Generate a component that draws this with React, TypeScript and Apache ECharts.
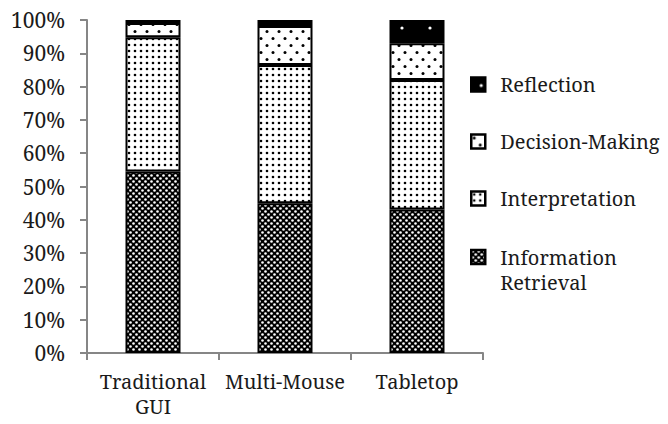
import React, { useEffect, useRef } from 'react';
import * as echarts from 'echarts';

const categories = ['Traditional GUI', 'Multi-Mouse', 'Tabletop'];
const seriesNames = ['Information Retrieval', 'Interpretation', 'Decision-Making', 'Reflection'];
const informationRetrieval = [54.5, 45.0, 43.1];
const interpretation = [40.3, 41.5, 38.9];
const decisionMaking = [4.3, 11.7, 11.0];
const reflection = [0.9, 1.8, 7.0];

const FONT = 'Noto Serif';
const TEXT_COLOR = '#1a1a1a';

function makeTile(w: number, h: number, bg: string, fg: string, dots: number[][]) {
  const c = document.createElement('canvas');
  c.width = w;
  c.height = h;
  const ctx = c.getContext('2d')!;
  ctx.fillStyle = bg;
  ctx.fillRect(0, 0, w, h);
  ctx.fillStyle = fg;
  dots.forEach(([x, y, r]) => {
    ctx.beginPath();
    ctx.arc(x, y, r, 0, Math.PI * 2);
    ctx.fill();
  });
  return { image: c.toDataURL(), repeat: 'repeat', imageWidth: w, imageHeight: h } as any;
}

export default function App() {
  const ref = useRef<HTMLDivElement>(null);
  useEffect(() => {
    document.body.style.margin = '0';
    const chart = echarts.init(ref.current!, null, { renderer: 'svg' });

    const patterns = [
      makeTile(6, 6, '#000', '#fff', [[1.5, 1.5, 1.3], [4.5, 4.5, 1.3]]),
      makeTile(6, 6, '#fff', '#000', [[3, 3, 1.3]]),
      makeTile(12, 14, '#fff', '#000', [[3, 3.5, 1.5], [9, 10.5, 1.5]]),
      makeTile(28, 20, '#000', '#fff', [[10, 8, 1.6]]),
    ];
    const values = [informationRetrieval, interpretation, decisionMaking, reflection];

    const legendOrder = ['Reflection', 'Decision-Making', 'Interpretation', 'Information Retrieval'];
    const legendTops = [72, 129, 186, 219.5];

    const option: any = {
      animation: false,
      grid: { left: 87, right: 185, top: 20, bottom: 71 },
      xAxis: {
        type: 'category',
        data: categories,
        axisLine: { lineStyle: { color: '#868686', width: 2 } },
        axisTick: { show: true, length: 7, lineStyle: { color: '#868686', width: 2 } },
        axisLabel: {
          interval: 0,
          margin: 16,
          color: TEXT_COLOR,
          fontFamily: FONT,
          fontSize: 20,
          lineHeight: 25,
          formatter: (v: string) => v.replace(' ', '\n'),
        },
      },
      yAxis: {
        type: 'value',
        min: 0,
        max: 100,
        interval: 10,
        axisLine: { show: true, lineStyle: { color: '#868686', width: 2 } },
        axisTick: { show: true, length: 7, lineStyle: { color: '#868686', width: 2 } },
        splitLine: { show: false },
        axisLabel: {
          margin: 22,
          color: TEXT_COLOR,
          fontFamily: FONT,
          fontSize: 21,
          formatter: '{value}%',
        },
      },
      legend: legendOrder.map((n, i) => ({
        orient: 'vertical',
        left: 470,
        top: legendTops[i],
        padding: 0,
        itemWidth: 14,
        itemHeight: 14,
        selectedMode: false,
        data: [n],
        icon: 'rect',
        formatter: (name: string) => (name === 'Information Retrieval' ? ' \nInformation\nRetrieval' : name),
        itemStyle: { borderColor: '#000', borderWidth: 2.5 },
        textStyle: {
          color: TEXT_COLOR,
          fontFamily: FONT,
          fontSize: 20,
          lineHeight: 25,
          padding: [0, 0, 0, 10],
        },
      })),
      series: seriesNames.map((name, i) => ({
        name,
        type: 'bar',
        stack: 'total',
        barWidth: 55,
        data: values[i],
        itemStyle: { color: patterns[i], borderColor: '#000', borderWidth: 2 },
      })),
    };
    chart.setOption(option);
    return () => chart.dispose();
  }, []);
  return <div ref={ref} style={{ position: 'absolute', left: 0, top: 0, width: 668, height: 424 }} />;
}
